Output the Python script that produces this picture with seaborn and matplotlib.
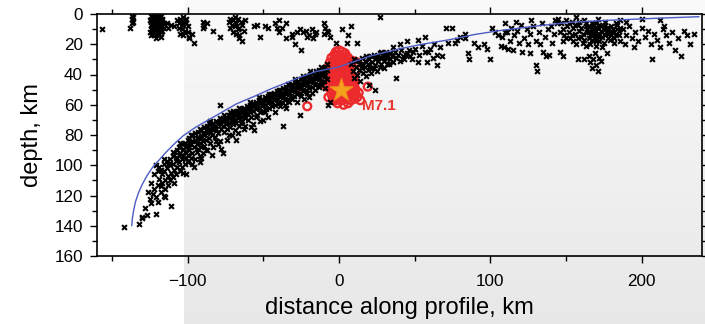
import numpy as np
import pandas as pd
import seaborn as sns
import matplotlib.pyplot as plt

# seismicity along profile: (distance km, depth km)
shallow_pts = [
    (-157, 10), (-138, 9), (-137, 1), (-137, 3), (-136, 5), (-137, 6), (-136, 2),
    (-124, 1), (-123, 2), (-122, 1), (-121, 3), (-120, 1), (-119, 2), (-118, 1), (-117, 3),
    (-125, 4), (-124, 5), (-123, 4), (-122, 6), (-121, 5), (-120, 4), (-119, 6), (-118, 5),
    (-117, 4), (-116, 6), (-124, 7), (-123, 8), (-122, 7), (-121, 9), (-120, 8), (-119, 7),
    (-118, 9), (-117, 8), (-116, 9), (-124, 10), (-123, 11), (-122, 10), (-121, 12),
    (-120, 11), (-119, 10), (-118, 12), (-117, 11), (-123, 13), (-122, 14), (-121, 13),
    (-120, 14), (-119, 13), (-118, 15), (-121, 16), (-125, 12), (-124, 14), (-123, 3),
    (-121, 7), (-119, 4), (-122, 12), (-120, 6), (-118, 7), (-120, 2), (-122, 3),
    (-114, 6), (-113, 9), (-111, 7), (-109, 8),
    (-107, 4), (-106, 6), (-105, 3), (-104, 5), (-103, 7), (-102, 4), (-101, 6), (-100, 8),
    (-106, 9), (-104, 10), (-102, 11), (-100, 12), (-105, 13), (-103, 14), (-99, 15),
    (-101, 3), (-103, 2), (-99, 16), (-96, 19), (-97, 13),
    (-90, 5), (-89, 8), (-87, 6), (-90, 9), (-83, 11), (-79, 15),
    (-73, 5), (-72, 3), (-71, 7), (-70, 4), (-69, 8), (-68, 6), (-67, 3), (-66, 9), (-65, 5),
    (-64, 7), (-63, 11), (-62, 4), (-70, 12), (-68, 13), (-66, 14), (-72, 9), (-67, 10),
    (-66, 16), (-64, 18), (-69, 2),
    (-56, 8), (-54, 7), (-52, 15), (-49, 8), (-47, 9),
    (-42, 6), (-40, 4), (-41, 9), (-40, 12), (-38, 9), (-35, 6), (-35, 16), (-31, 13),
    (-31, 15), (-28, 12), (-29, 20), (-25, 24), (-26, 10), (-24, 12), (-22, 11), (-20, 14),
    (-18, 10), (-16, 13), (-21, 15), (-17, 16), (-15, 12),
    (-10, 6), (-9, 9), (-8, 11), (-10, 13), (-7, 12), (-6, 15),
    (2, 10), (8, 8), (6, 14), (-2, 19), (5, 19), (12, 19), (27, 2),
    (52, 17), (57, 15), (71, 9), (75, 9), (77, 19), (89, 19), (92, 22), (96, 20), (98, 23),
    (101, 9), (103, 12), (105, 14), (28, 25), (31, 27), (30, 29), (59, 25), (65, 27),
    (62, 29), (68, 28), (52, 32), (58, 32), (65, 34), (85, 26), (86, 30), (100, 30),
    (40, 20), (45, 18), (80, 15), (83, 13), (110, 12), (36, 22),
]

slab_pts = [
    (-142, 141), (-132, 139), (-130, 135), (-130, 134), (-128, 128), (-127, 133), (-126, 118),
    (-125, 122), (-124, 112), (-124, 125), (-123, 119), (-122, 116), (-122, 106), (-121, 132),
    (-121, 121), (-120, 104), (-120, 113), (-120, 124),
    (-119, 101), (-119, 109), (-118, 114), (-118, 118), (-117, 106), (-117, 112), (-116, 99),
    (-116, 104), (-116, 120), (-115, 110), (-115, 116), (-114, 97), (-114, 102), (-113, 107),
    (-113, 113), (-112, 96), (-112, 100), (-112, 110), (-111, 105), (-111, 127), (-110, 94),
    (-110, 99), (-110, 108),
    (-109, 93), (-109, 103), (-108, 97), (-108, 106), (-107, 90), (-107, 95), (-107, 101),
    (-106, 88), (-106, 98), (-105, 92), (-105, 104), (-104, 86), (-104, 96), (-104, 101),
    (-103, 89), (-103, 94), (-102, 85), (-102, 91), (-102, 99), (-101, 88), (-101, 95),
    (-100, 83), (-100, 87), (-100, 93), (-100, 98), (-101, 106),
    (-99, 82), (-99, 90), (-98, 86), (-98, 95), (-97, 80), (-97, 84), (-97, 92), (-96, 88),
    (-96, 101), (-95, 79), (-95, 83), (-95, 96), (-94, 86), (-94, 91), (-93, 78), (-93, 82),
    (-93, 89), (-92, 85), (-92, 94), (-91, 77), (-91, 81), (-91, 88), (-90, 79), (-90, 84),
    (-90, 92), (-92, 98),
    (-89, 75), (-89, 80), (-89, 87), (-88, 77), (-88, 83), (-87, 74), (-87, 79), (-87, 90),
    (-86, 76), (-86, 82), (-85, 73), (-85, 78), (-85, 85), (-84, 75), (-84, 80), (-83, 72),
    (-83, 77), (-83, 88), (-82, 74), (-82, 81), (-81, 71), (-81, 76), (-80, 73), (-80, 79),
    (-80, 86), (-79, 60), (-78, 70), (-78, 76), (-77, 92),
    (-79, 72), (-79, 84), (-77, 69), (-77, 74), (-76, 71), (-76, 78), (-75, 68), (-75, 73),
    (-74, 70), (-74, 76), (-74, 83), (-73, 67), (-73, 72), (-72, 69), (-72, 75), (-71, 66),
    (-71, 71), (-71, 80), (-70, 68), (-70, 73), (-69, 65), (-69, 70), (-69, 77), (-68, 67),
    (-68, 72), (-68, 83), (-67, 64), (-67, 69), (-66, 66), (-66, 74),
    (-65, 63), (-65, 68), (-64, 65), (-64, 71), (-63, 62), (-63, 67), (-63, 76), (-62, 64),
    (-62, 69), (-61, 61), (-61, 66), (-60, 63), (-60, 70), (-59, 60), (-59, 65), (-58, 62),
    (-58, 68), (-57, 59), (-57, 64), (-57, 73), (-56, 61), (-56, 77), (-55, 58), (-55, 63),
    (-54, 60), (-54, 67), (-53, 57), (-53, 62), (-52, 59), (-52, 65), (-51, 56), (-51, 61),
    (-50, 58), (-50, 64), (-50, 70),
    (-49, 55), (-49, 60), (-48, 57), (-48, 63), (-47, 54), (-47, 59), (-46, 56), (-46, 62),
    (-45, 53), (-45, 58), (-44, 55), (-44, 61), (-43, 52), (-43, 57), (-42, 54), (-42, 60),
    (-41, 51), (-41, 56), (-40, 53), (-40, 59), (-39, 50), (-39, 55), (-38, 52), (-38, 58),
    (-37, 49), (-37, 54), (-37, 74), (-36, 51), (-36, 57), (-35, 48), (-35, 53), (-35, 62),
    (-34, 50), (-34, 56), (-33, 47), (-33, 52), (-32, 49), (-32, 55), (-31, 46), (-31, 51),
    (-30, 48), (-30, 54), (-29, 45), (-29, 50), (-28, 47), (-28, 53), (-27, 44), (-27, 49),
    (-26, 46), (-26, 52), (-26, 67), (-25, 43), (-25, 48), (-24, 45), (-24, 51), (-23, 42),
    (-23, 47), (-22, 44), (-22, 50), (-21, 41), (-21, 46), (-20, 43), (-20, 49), (-20, 55),
    (-19, 40), (-19, 45), (-18, 42), (-18, 48), (-17, 39), (-17, 44), (-16, 41), (-16, 47),
    (-15, 38), (-15, 43), (-14, 40), (-14, 46), (-13, 37), (-13, 42), (-12, 39), (-12, 45),
    (-11, 36), (-11, 41), (-10, 38), (-10, 44), (-9, 35), (-9, 40), (-8, 37), (-8, 43),
    (-7, 60), (-6, 58),
    # extra scatter through the band
    (-118, 103), (-115, 121), (-113, 99), (-109, 112), (-106, 93), (-103, 105), (-99, 86),
    (-97, 99), (-94, 82), (-91, 95), (-88, 90), (-86, 72), (-84, 93), (-81, 84), (-78, 89),
    (-76, 67), (-73, 80), (-70, 64), (-67, 79), (-65, 72), (-62, 74), (-60, 66), (-58, 75),
    (-55, 68), (-52, 71), (-49, 65), (-47, 68), (-44, 58), (-42, 65), (-39, 61), (-36, 60),
    (-33, 58), (-31, 56), (-28, 58), (-25, 54), (-23, 56), (-21, 52), (-18, 52), (-16, 50),
    (-13, 48), (-11, 47), (-9, 49), (-8, 33), (-12, 35), (-19, 38), (-24, 41), (-29, 43),
    (-34, 46), (-40, 50), (-46, 53), (-53, 55), (-59, 58), (-66, 62), (-72, 65), (-79, 69),
    (-85, 71), (-92, 76), (-98, 80), (-105, 85), (-110, 91), (-116, 96), (-121, 100),
    (8, 33), (9, 38), (10, 30), (10, 42), (11, 35), (12, 40), (13, 31), (13, 37), (14, 33),
    (14, 44), (15, 29), (15, 36), (16, 39), (17, 31), (17, 35), (18, 28), (18, 41), (19, 33),
    (19, 37), (20, 30), (20, 35), (21, 28), (21, 39), (22, 32), (23, 27), (23, 36), (24, 30),
    (24, 34), (25, 28), (25, 38), (26, 31), (27, 26), (27, 35), (28, 29), (28, 33), (29, 27),
    (30, 31), (30, 36), (31, 25), (32, 29), (33, 33), (34, 26), (34, 30), (35, 28), (36, 32),
    (37, 25), (38, 29), (39, 27), (40, 31), (41, 24), (42, 28), (43, 30), (45, 26), (46, 24),
    (47, 28), (49, 25), (50, 23), (53, 27), (55, 21), (57, 25), (60, 23), (63, 20), (67, 22),
    (72, 19), (78, 17), (83, 16), (20, 47), (24, 50), (38, 42),
    (11, 31), (16, 34), (22, 36), (26, 29), (32, 33), (36, 27), (44, 27), (48, 30),
]

east_pts = [
    (107, 21), (109, 22), (112, 23), (108, 15), (111, 12), (114, 9), (116, 14), (118, 11),
    (120, 7), (122, 16), (124, 10), (126, 13), (128, 8), (130, 18), (132, 12), (134, 6),
    (136, 15), (138, 10), (140, 8), (142, 13), (144, 6), (115, 24), (121, 25), (126, 26),
    (130, 34), (131, 38), (135, 25), (139, 27), (137, 28), (146, 25), (148, 28), (113, 18),
    (119, 19), (125, 20), (133, 20), (141, 19), (143, 4), (127, 4), (117, 5), (110, 6),
    (145, 3), (147, 6), (148, 10), (149, 14), (150, 4), (151, 8), (152, 12), (153, 16),
    (154, 5), (155, 9), (156, 13), (157, 2), (158, 7), (159, 11), (160, 15), (161, 19),
    (162, 4), (163, 8), (164, 12), (165, 16), (166, 20), (167, 6), (168, 10), (169, 14),
    (170, 18), (171, 3), (172, 7), (173, 11), (174, 15), (175, 19), (176, 5), (177, 9),
    (178, 13), (179, 17), (180, 8), (181, 12), (182, 16), (183, 6), (184, 10), (185, 14),
    (186, 18), (146, 12), (148, 18), (150, 16), (152, 6), (154, 14), (156, 7), (158, 16),
    (159, 5), (160, 9), (161, 13), (162, 17), (163, 6), (164, 10), (165, 8), (165, 12),
    (166, 14), (167, 11), (167, 17), (168, 7), (168, 13), (169, 9), (169, 16), (170, 11),
    (170, 6), (171, 13), (171, 9), (172, 15), (172, 18), (173, 8), (174, 12), (175, 10),
    (176, 14), (176, 7), (177, 11), (178, 16), (178, 9), (179, 12), (180, 14), (181, 10),
    (182, 19), (183, 13), (184, 7), (185, 11), (186, 9), (157, 20), (163, 21), (170, 21),
    (174, 22), (155, 18),
    (165, 28), (166, 32), (167, 36), (168, 30), (170, 34), (171, 38), (172, 29), (173, 31),
    (169, 26), (177, 26), (158, 30), (162, 30),
    (188, 10), (190, 14), (192, 8), (194, 16), (196, 12), (198, 18), (200, 9), (202, 15),
    (204, 11), (206, 20), (207, 30), (208, 13), (210, 17), (212, 22), (214, 10), (216, 14),
    (218, 19), (220, 12), (222, 24), (224, 16), (226, 28), (228, 11), (230, 14), (232, 20),
    (235, 13), (189, 20), (195, 22), (186, 4), (190, 5), (200, 3), (212, 4), (215, 8),
]

# aftershocks (red open circles)
after_pts = [
    (-2, 25), (0, 24), (2, 25), (4, 26), (5, 28), (-3, 27), (-1, 27), (1, 28), (3, 28),
    (-5, 29), (-3, 30), (-1, 30), (1, 31), (3, 30), (5, 31), (6, 29),
    (-6, 32), (-4, 33), (-2, 32), (0, 33), (2, 33), (4, 33), (6, 34), (8, 33),
    (-7, 35), (-5, 36), (-3, 35), (-1, 36), (1, 35), (3, 36), (5, 35), (7, 36),
    (-7, 38), (-5, 38), (-3, 39), (-1, 38), (1, 39), (3, 38), (5, 39), (7, 38), (8, 40),
    (-7, 41), (-5, 42), (-3, 41), (-1, 42), (1, 41), (3, 42), (5, 41), (7, 42), (9, 41),
    (-6, 44), (-4, 45), (-2, 44), (0, 45), (2, 44), (4, 45), (6, 44), (8, 45),
    (-6, 47), (-4, 48), (-2, 47), (0, 48), (2, 47), (4, 48), (6, 47), (8, 48), (10, 47),
    (-5, 50), (-3, 51), (-1, 50), (1, 51), (3, 50), (5, 51), (7, 50), (9, 51), (11, 50),
    (-5, 53), (-3, 54), (-1, 53), (1, 54), (3, 53), (5, 54), (7, 53), (9, 54), (11, 53),
    (-4, 56), (-2, 57), (0, 56), (2, 57), (5, 56), (8, 57), (10, 56), (12, 55), (13, 52),
    (-14, 44), (-28, 49), (-21, 61), (12, 32), (19, 48), (14, 57), (-7, 55), (-1, 59),
    (6, 59), (3, 60), (10, 44), (11, 38), (-8, 48), (9, 31),
]

# slab top line
slab_x = [-137, -136.6, -135.8, -134.5, -132.5, -130, -127, -123, -118, -114, -108, -103,
          -95, -81, -68, -55, -45, -35, -25, -15, 0, 10, 20, 30, 40, 55, 73, 90, 106, 130,
          153, 173, 210, 238]
slab_d = [140, 135, 130, 124, 118, 112.5, 107, 101, 95.5, 91, 85, 80.5, 75, 67, 59.5, 54,
          49.5, 45.5, 41.5, 38, 35, 31.5, 28, 25.5, 23, 20, 17, 13.5, 11, 8, 5.5, 4.4, 2.8, 1.8]

main_x, main_d = 1, 50
main_label = "M7.1"

quakes = pd.DataFrame(shallow_pts + slab_pts + east_pts, columns=["dist", "depth"])
after = pd.DataFrame(after_pts, columns=["dist", "depth"])

sns.set_theme(style="ticks")
plt.rcParams["font.family"] = ["Liberation Sans", "DejaVu Sans"]

fig = plt.figure(figsize=(7.05, 3.24), dpi=100)
fig.patch.set_facecolor("white")

# grey slide background on the right part
bg = fig.add_axes([184 / 705, 0, 1 - 184 / 705, 1], zorder=-5)
grad = np.linspace(0.975, 0.905, 100).reshape(-1, 1)
bg.imshow(grad, aspect="auto", cmap="gray", vmin=0, vmax=1, extent=[0, 1, 0, 1])
bg.axis("off")

ax = fig.add_axes([97 / 705, 68 / 324, 605 / 705, 242 / 324])
ax.set_facecolor("none")

sns.scatterplot(data=after, x="dist", y="depth", marker="o", s=32, fc="none",
                ec="#ec2a2d", linewidth=1.7, ax=ax, zorder=2)
sns.scatterplot(data=quakes, x="dist", y="depth", marker="x", s=12, color="black",
                linewidth=1.5, ax=ax, zorder=3)
sns.lineplot(x=slab_x, y=slab_d, sort=False, color="#4b5cc4", linewidth=1.0, ax=ax, zorder=4)
ax.scatter([main_x], [main_d], marker="*", s=300, color="#f6a11e", ec="#f08a1c",
           linewidth=0.8, zorder=5)
ax.text(main_x + 14, main_d + 11, main_label, color="#e8342c", fontsize=11,
        fontweight="bold", va="center", ha="left", zorder=6)

ax.set_xlim(-160, 240)
ax.set_ylim(160, 0)
ax.set_xticks([-100, 0, 100, 200])
ax.set_xticks(np.arange(-150, 241, 50), minor=True)
ax.set_yticks(np.arange(0, 161, 20))
ax.set_yticks(np.arange(10, 160, 20), minor=True)
ax.tick_params(which="both", direction="out", top=True, right=True, color="black",
               width=1.0, labelsize=12.3, labelcolor="black")
ax.tick_params(which="major", length=5)
ax.tick_params(which="minor", length=3.5)
ax.tick_params(axis="x", pad=8)
ax.tick_params(axis="y", pad=5)
for sp in ax.spines.values():
    sp.set_linewidth(1.2)
    sp.set_color("black")

ax.set_xlabel("distance along profile, km", fontsize=17, labelpad=6, color="black")
ax.set_ylabel("depth, km", fontsize=17, labelpad=8, color="black")

fig.savefig("out.png", dpi=100)
